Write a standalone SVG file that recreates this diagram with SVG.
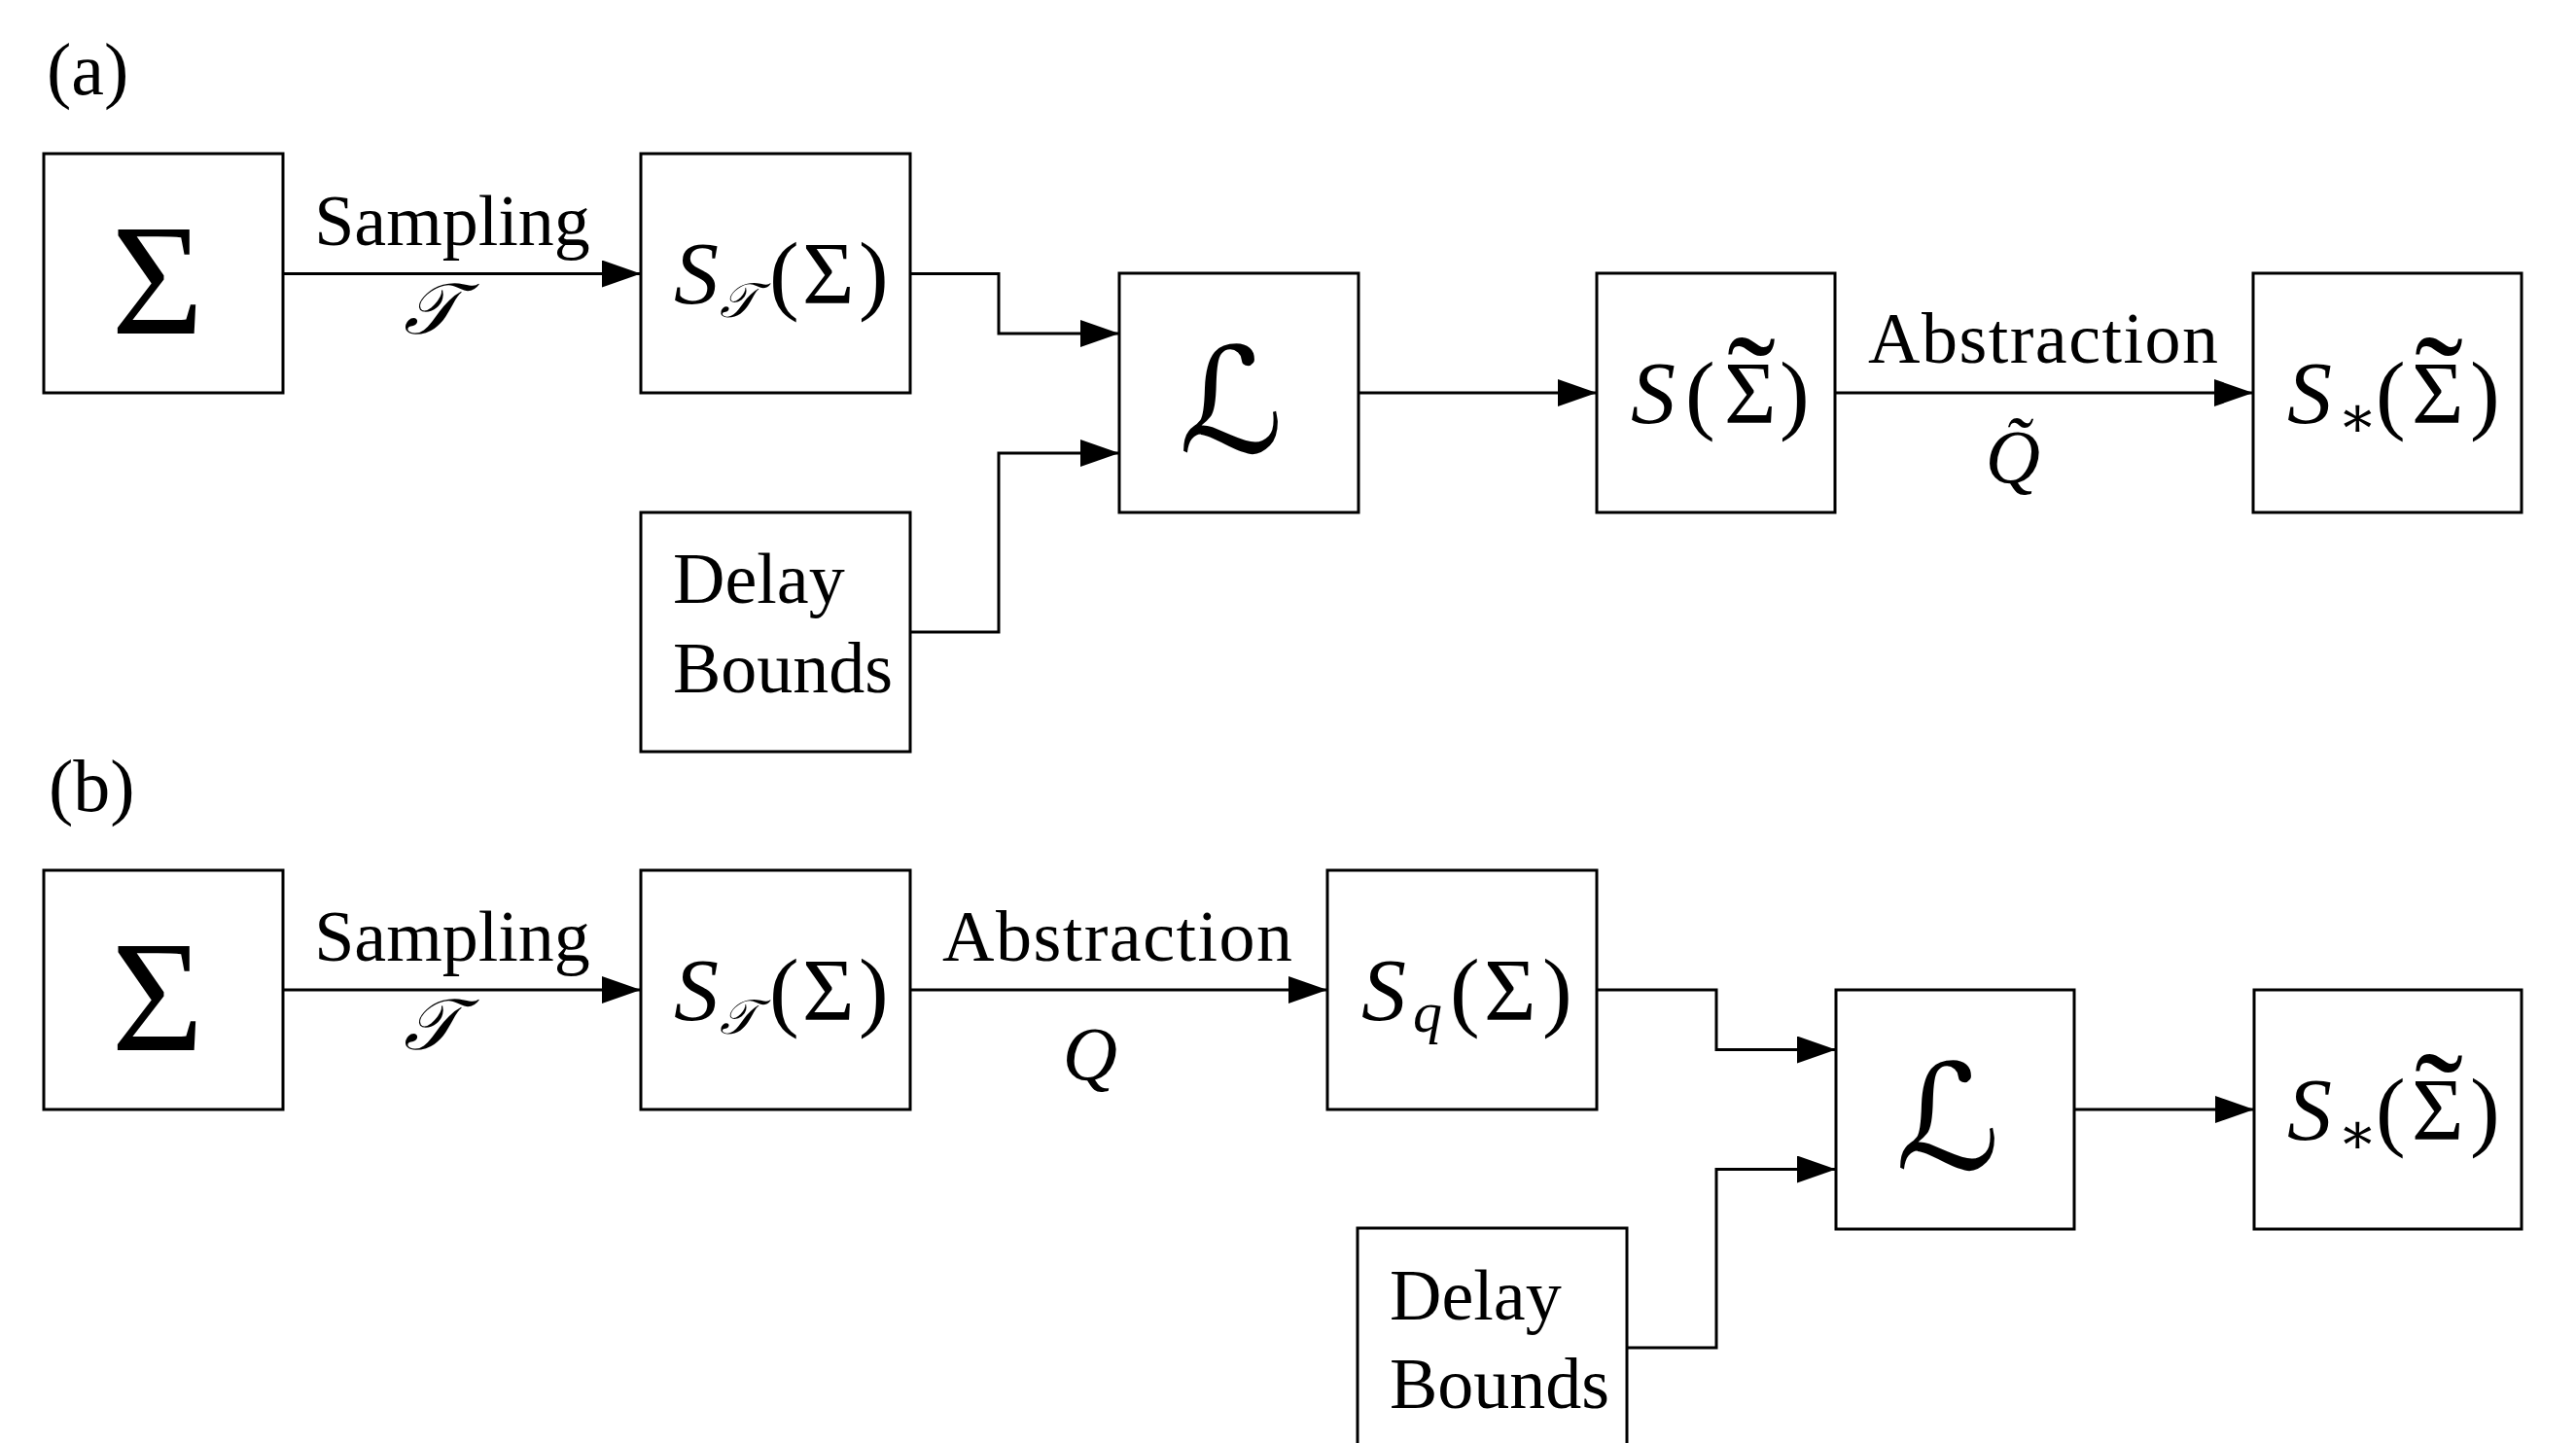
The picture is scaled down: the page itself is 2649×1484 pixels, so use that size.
<svg xmlns="http://www.w3.org/2000/svg" width="2649" height="1484" viewBox="0 0 2649 1484">
<style>
.box{fill:#fff;stroke:#000;stroke-width:3}
.wire{fill:none;stroke:#000;stroke-width:3;marker-end:url(#arr)}
text{font-family:"Liberation Serif","DejaVu Serif",serif;fill:#000}
.lbl{font-size:74px}
.m{font-size:92px}
.it{font-style:italic}
.sub{font-size:60px}
.subc{font-size:50px}
.c{text-anchor:middle}
.big{font-size:163px;text-anchor:middle}
.cal{font-family:"DejaVu Serif","DejaVu Sans",serif;font-style:italic}
.tl{font-size:150px}
</style>
<defs>
<marker id="arr" markerUnits="userSpaceOnUse" markerWidth="40" markerHeight="28" refX="40" refY="14" orient="auto">
<path d="M0,0 L40,14 L0,28 z" fill="#000"/>
</marker>
</defs>
<rect width="2649" height="1484" fill="#fff"/>
<text class="lbl" x="48" y="97" style="font-size:76px">(a)</text>
<text class="lbl" x="50" y="834" style="font-size:76px">(b)</text>

<g id="connectors">
<path class="wire" d="M291,281.5 H659"/>
<path class="wire" d="M936,281.5 H1027 V343 H1151"/>
<path class="wire" d="M936,650 H1027 V466 H1151"/>
<path class="wire" d="M1397,404 H1642"/>
<path class="wire" d="M1887,404 H2317"/>
<path class="wire" d="M291,1018 H659"/>
<path class="wire" d="M936,1018 H1365"/>
<path class="wire" d="M1642,1018 H1765 V1079.5 H1888"/>
<path class="wire" d="M1673,1386 H1765 V1202.5 H1888"/>
<path class="wire" d="M2133,1141 H2318"/>
<text class="lbl c" x="465" y="252">Sampling</text>
<text class="lbl c cal" x="443" y="343">𝒯</text>
<text class="lbl c" x="2101" y="373" textLength="360" lengthAdjust="spacing">Abstraction</text>
<text class="lbl c it" x="2070" y="496" style="font-size:78px">Q̃</text>
<text class="lbl c" x="465" y="988">Sampling</text>
<text class="lbl c cal" x="443" y="1079">𝒯</text>
<text class="lbl c" x="1149" y="988" textLength="360" lengthAdjust="spacing">Abstraction</text>
<text class="lbl c it" x="1121" y="1110" style="font-size:78px">Q</text>
</g>

<g id="a-sigma">
<rect class="box" x="45" y="158" width="246" height="246"/>
<text class="big" x="162" y="343">Σ</text>
</g>
<g id="a-stau">
<rect class="box" x="659" y="158" width="277" height="246"/>
<text class="m"><tspan class="it" x="693" y="312">S</tspan><tspan class="subc cal" x="740" y="326">𝒯</tspan><tspan x="791" y="312">(</tspan><tspan x="825" y="312">Σ</tspan><tspan x="883" y="312">)</tspan></text>
</g>
<g id="a-delay">
<rect class="box" x="659" y="527" width="277" height="246"/>
<text class="lbl" x="692" y="620">Delay</text>
<text class="lbl" x="692" y="712">Bounds</text>
</g>
<g id="a-L">
<rect class="box" x="1151" y="281" width="246" height="246"/>
<text class="big cal" x="1266" y="465" style="font-size:150px">ℒ</text>
</g>
<g id="a-stilde">
<rect class="box" x="1642" y="281" width="245" height="246"/>
<text class="m"><tspan class="it" x="1677" y="435">S</tspan><tspan x="1733" y="435">(</tspan><tspan x="1773" y="435">Σ</tspan><tspan class="tl" x="1776" y="448">˜</tspan><tspan x="1830" y="435">)</tspan></text>
</g>
<g id="a-sstar">
<rect class="box" x="2317" y="281" width="276" height="246"/>
<text class="m"><tspan class="it" x="2352" y="435">S</tspan><tspan class="sub" x="2404" y="449">∗</tspan><tspan x="2443" y="435">(</tspan><tspan x="2480" y="435">Σ</tspan><tspan class="tl" x="2483" y="448">˜</tspan><tspan x="2540" y="435">)</tspan></text>
</g>

<g id="b-sigma">
<rect class="box" x="45" y="895" width="246" height="246"/>
<text class="big" x="162" y="1080">Σ</text>
</g>
<g id="b-stau">
<rect class="box" x="659" y="895" width="277" height="246"/>
<text class="m"><tspan class="it" x="693" y="1049">S</tspan><tspan class="subc cal" x="740" y="1063">𝒯</tspan><tspan x="791" y="1049">(</tspan><tspan x="825" y="1049">Σ</tspan><tspan x="883" y="1049">)</tspan></text>
</g>
<g id="b-sq">
<rect class="box" x="1365" y="895" width="277" height="246"/>
<text class="m"><tspan class="it" x="1400" y="1049">S</tspan><tspan class="sub it" x="1453" y="1061">q</tspan><tspan x="1491" y="1049">(</tspan><tspan x="1526" y="1049">Σ</tspan><tspan x="1586" y="1049">)</tspan></text>
</g>
<g id="b-L">
<rect class="box" x="1888" y="1018" width="245" height="246"/>
<text class="big cal" x="2003" y="1202" style="font-size:150px">ℒ</text>
</g>
<g id="b-sstar">
<rect class="box" x="2318" y="1018" width="275" height="246"/>
<text class="m"><tspan class="it" x="2352" y="1172">S</tspan><tspan class="sub" x="2404" y="1186">∗</tspan><tspan x="2443" y="1172">(</tspan><tspan x="2480" y="1172">Σ</tspan><tspan class="tl" x="2483" y="1185">˜</tspan><tspan x="2540" y="1172">)</tspan></text>
</g>
<g id="b-delay">
<rect class="box" x="1396" y="1263" width="277" height="246"/>
<text class="lbl" x="1429" y="1357">Delay</text>
<text class="lbl" x="1429" y="1448">Bounds</text>
</g>
</svg>
